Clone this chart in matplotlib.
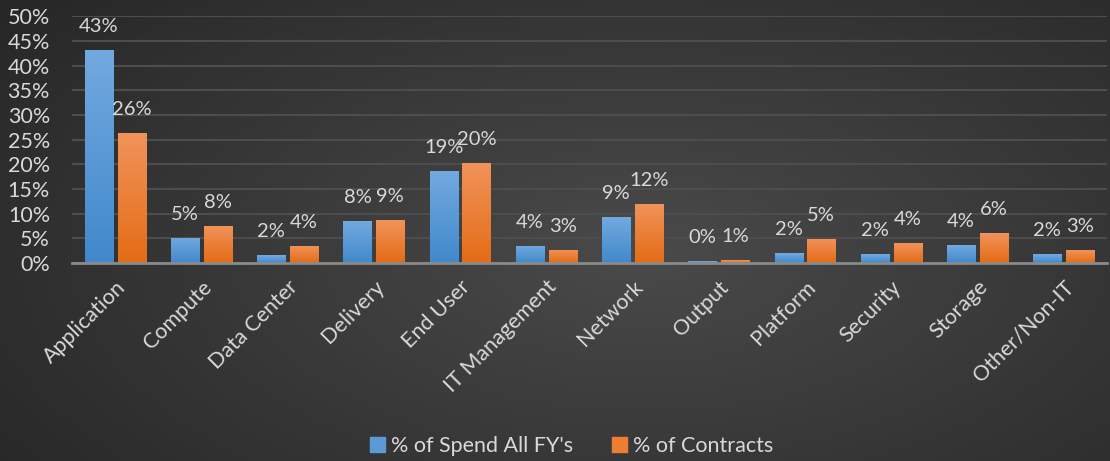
import numpy as np
import matplotlib
matplotlib.use("Agg")
import matplotlib.pyplot as plt
from matplotlib.colors import LinearSegmentedColormap

# Données
categories = ["Application", "Compute", "Data Center", "Delivery", "End User",
              "IT Management", "Network", "Output", "Platform", "Security",
              "Storage", "Other/Non-IT"]
spend = [0.431, 0.051, 0.016, 0.085, 0.186, 0.035, 0.093, 0.004, 0.020, 0.018, 0.036, 0.018]
contracts = [0.263, 0.075, 0.035, 0.087, 0.202, 0.027, 0.120, 0.006, 0.049, 0.040, 0.060, 0.026]
yticks = np.arange(0, 0.51, 0.05)

text_col = "#d9d9d9"
fs = 15.5
plt.rcParams["font.family"] = ["Lato", "DejaVu Sans"]

fig = plt.figure(figsize=(11.1, 4.61), dpi=100)

# Fond dégradé radial
bg = fig.add_axes([0, 0, 1, 1], zorder=-10)
xx, yy = np.meshgrid(np.linspace(0, 1, 400), np.linspace(0, 1, 200))
r = np.sqrt(((xx - 0.58) / 0.75) ** 2 + ((yy - 0.45) / 0.9) ** 2)
bg_cmap = LinearSegmentedColormap.from_list("bg", ["#4a4a4a", "#262626"])
bg.imshow(np.clip(r, 0, 1), cmap=bg_cmap, aspect="auto", extent=[0, 1, 0, 1],
          origin="lower", vmin=0, vmax=1)
bg.axis("off")

ax = fig.add_axes([0.065, 0.4295, 0.932, 0.5355])
ax.set_facecolor("none")

x = np.arange(len(categories))
w = 0.325
gap = 0.055
b1 = ax.bar(x - (w + gap) / 2, spend, w, color="#5b9bd5", label="% of Spend All FY's", zorder=3)
b2 = ax.bar(x + (w + gap) / 2, contracts, w, color="#ed7d31", label="% of Contracts", zorder=3)

# Dégradé vertical sur les barres
grad = np.linspace(0, 1, 100).reshape(-1, 1)
blue_cmap = LinearSegmentedColormap.from_list("b", ["#4189cc", "#72a9df"])
orange_cmap = LinearSegmentedColormap.from_list("o", ["#e46c16", "#f1935a"])
for bars, cm in [(b1, blue_cmap), (b2, orange_cmap)]:
    for p in bars:
        bb = p.get_bbox()
        im = ax.imshow(grad, cmap=cm, aspect="auto", origin="lower",
                       extent=[bb.x0, bb.x1, bb.y0, bb.y1], zorder=3.5)
        im.set_clip_path(p)

for bars in (b1, b2):
    for p in bars:
        v = p.get_height()
        ax.annotate(f"{v * 100:.0f}%", (p.get_x() + p.get_width() / 2, v),
                    xytext=(0, 13), textcoords="offset points", ha="center",
                    va="baseline", color=text_col, fontsize=14.5, zorder=5)

ax.set_xlim(-0.5, len(categories) - 0.5)
ax.set_ylim(0, 0.5)
ax.set_yticks(yticks)
ax.set_yticklabels([f"{t * 100:.0f}%" for t in yticks])
ax.set_xticks(x)
ax.set_xticklabels(categories, rotation=45, ha="right", rotation_mode="anchor")
ax.tick_params(axis="both", length=0, colors=text_col, labelsize=fs)
ax.tick_params(axis="y", pad=16)
ax.tick_params(axis="x", pad=10)

ax.grid(axis="y", color="#4d4d4d", linewidth=1.5, zorder=0)
for s in ["top", "right", "left"]:
    ax.spines[s].set_visible(False)
ax.spines["bottom"].set_color("#8a8a8a")
ax.spines["bottom"].set_linewidth(2)
ax.spines["bottom"].set_zorder(4)

leg = fig.legend(handles=[b1, b2], loc="center", bbox_to_anchor=(0.515, 0.033), ncol=2,
                 frameon=False, fontsize=fs, handlelength=0.7, handleheight=0.7,
                 handletextpad=0.3, columnspacing=1.8, labelcolor=text_col)
for h, c in zip(leg.legend_handles, ["#5b9bd5", "#ed7d31"]):
    h.set_color(c)

fig.savefig("out.png", dpi=100)
